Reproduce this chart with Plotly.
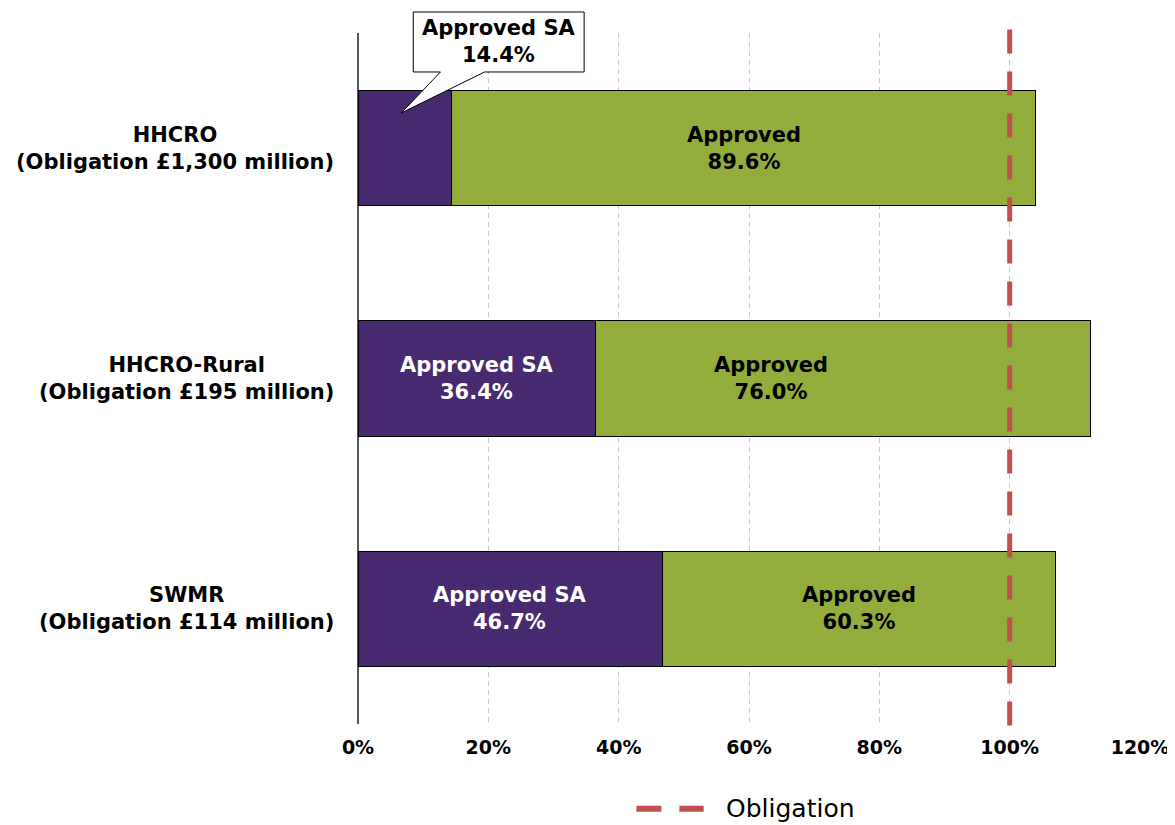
import plotly.graph_objects as go

# ---- data ----
categories = ["HHCRO", "HHCRO-Rural", "SWMR"]
category_labels = [
    "HHCRO<br>(Obligation £1,300 million)",
    "HHCRO-Rural<br>(Obligation £195 million)",
    "SWMR<br>(Obligation £114 million)",
]
approved_sa = [14.4, 36.4, 46.7]
approved = [89.6, 76.0, 60.3]
obligation = 100
x_ticks = [0, 20, 40, 60, 80, 100, 120]

# ---- styles ----
PURPLE = "#472A6F"
GREEN = "#92AD3C"
RED = "#C0504D"
FONT = "DejaVu Sans"
green_label_shift = [0, -11, 0]

fig = go.Figure()
fig.add_trace(go.Bar(
    y=categories, x=approved_sa, orientation="h", name="Approved SA",
    marker=dict(color=PURPLE, line=dict(color="#000000", width=1)),
    width=0.5, showlegend=False, hoverinfo="x+y",
))
fig.add_trace(go.Bar(
    y=categories, x=approved, orientation="h", name="Approved",
    marker=dict(color=GREEN, line=dict(color="#000000", width=1)),
    width=0.5, showlegend=False, hoverinfo="x+y",
))

annotations = []
for cat, lab in zip(categories, category_labels):
    annotations.append(dict(
        x=0, xref="paper", y=cat, yref="y", text=lab, showarrow=False,
        xanchor="right", yanchor="middle", xshift=-22, align="center",
        font=dict(family=FONT, size=21, color="#000000", weight="bold"),
    ))

for i, cat in enumerate(categories):
    if i > 0:
        annotations.append(dict(
            x=approved_sa[i] / 2, y=cat, text=f"Approved SA<br>{approved_sa[i]:.1f}%",
            showarrow=False, align="center", yanchor="middle",
            font=dict(family=FONT, size=21, color="#FFFFFF", weight="bold"),
        ))
    annotations.append(dict(
        x=approved_sa[i] + approved[i] / 2 + green_label_shift[i], y=cat,
        text=f"Approved<br>{approved[i]:.1f}%",
        showarrow=False, align="center", yanchor="middle",
        font=dict(family=FONT, size=21, color="#000000", weight="bold"),
    ))

annotations.append(dict(
    x=21.6, xref="x", y=0.987, yref="paper", xanchor="center", yanchor="middle",
    text=f"Approved SA<br>{approved_sa[0]:.1f}%", showarrow=False, align="center",
    font=dict(family=FONT, size=21, color="#000000", weight="bold"),
))

annotations.append(dict(
    x=0.468, xref="paper", y=-0.1225, yref="paper", text="Obligation",
    showarrow=False, xanchor="left", yanchor="middle",
    font=dict(family=FONT, size=25, color="#000000"),
))

shapes = [
    dict(type="path", xref="x", yref="paper",
         path="M 8.48,1.0304 L 34.7,1.0304 L 34.7,0.9436 L 19.43,0.9436 "
              "L 6.63,0.8842 L 12.65,0.9436 L 8.48,0.9436 Z",
         fillcolor="#FFFFFF", line=dict(color="#000000", width=1), layer="above"),
    dict(type="line", xref="x", yref="paper", x0=obligation, x1=obligation,
         y0=-0.002, y1=1.0065,
         line=dict(color=RED, width=5, dash="24px,18px"), layer="above"),
    dict(type="line", xref="paper", yref="paper", x0=0.356, x1=0.442,
         y0=-0.1225, y1=-0.1225,
         line=dict(color=RED, width=6, dash="25px,18px")),
]

fig.update_layout(
    barmode="stack",
    width=1175, height=817,
    margin=dict(l=350, r=43, t=25, b=101),
    paper_bgcolor="#FFFFFF", plot_bgcolor="#FFFFFF",
    showlegend=False,
    annotations=annotations,
    shapes=shapes,
    xaxis=dict(
        range=[0, 120], tickvals=x_ticks, ticktext=[f"{v}%" for v in x_ticks],
        showgrid=True, gridcolor="#C8C8C8", griddash="5px,4px", gridwidth=1,
        zeroline=True, zerolinecolor="#595959", zerolinewidth=2,
        showline=False, ticks="", ticklabelstandoff=10,
        ticklabeloverflow="allow",
        tickfont=dict(family=FONT, size=19, color="#000000", weight="bold"),
        fixedrange=True,
    ),
    yaxis=dict(
        categoryorder="array", categoryarray=categories,
        range=[2.5, -0.5], showticklabels=False, showgrid=False,
        zeroline=False, showline=False, ticks="", fixedrange=True,
    ),
)

fig.write_html("out.html")
